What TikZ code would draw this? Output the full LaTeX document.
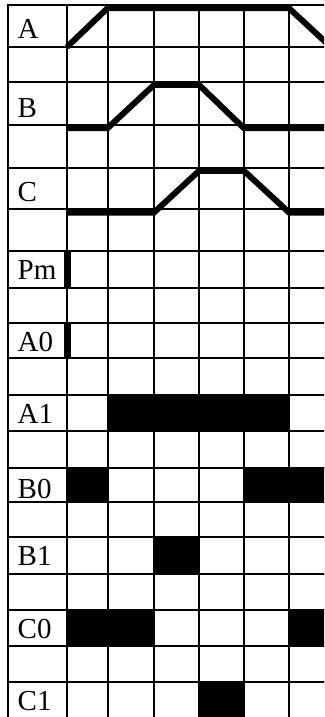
\documentclass[tikz,border=0pt]{standalone}
\usepackage{fontspec}
\setmainfont{Liberation Serif}
\usetikzlibrary{positioning}
\tikzset{
  gridline/.style={line width=2pt},
  wave/.style={line width=6pt},
  cell/.style={fill=black},
  lbl/.style={anchor=base west, inner sep=0pt, font=\fontsize{29}{32}\selectfont},
}

\begin{document}
\begin{tikzpicture}[x=1pt, y=-1pt]
  \clip (0,0) rectangle (324,717);

  % filled cells
  \fill[cell] (63.5,250.7) rectangle (71,287.7);    % Pm
  \fill[cell] (63.5,322.7) rectangle (71,358.3);    % A0
  \fill[cell] (107.5,395) rectangle (289,431);      % A1
  \fill[cell] (67,467.7) rectangle (107.5,501.7);   % B0
  \fill[cell] (244,467.7) rectangle (334,501.7);
  \fill[cell] (154,537.3) rectangle (199,574);      % B1
  \fill[cell] (67,610) rectangle (154,645.7);       % C0
  \fill[cell] (289,610) rectangle (334,645.7);
  \fill[cell] (199,681.7) rectangle (244,730);      % C1

  % grid
  \foreach \x in {8,67,107.5,154,199,244,289}
    \draw[gridline] (\x,4) -- (\x,730);
  \foreach \y in {5,46.7,81.7,125,167.7,209.3,250.7,287.7,322.7,358.3,
                  395,431,467.7,501.7,537.3,574,610,645.7,681.7}
    \draw[gridline] (7,\y) -- (334,\y);

  % waveforms
  \draw[wave] (67,47) -- (107.5,8.2) -- (289,8.2) -- (334,49.9);
  \draw[wave] (67,128.2) -- (107.5,128.2) -- (154,84.9) -- (199,84.9)
              -- (244,128.2) -- (334,128.2);
  \draw[wave] (67,212.5) -- (154,212.5) -- (199,170.9) -- (244,170.9)
              -- (289,212.5) -- (334,212.5);

  % labels
  \node[lbl] (a)  at (17.5,38)    {A};
  \node[lbl] (b)  at (17.5,117)   {B};
  \node[lbl] (c)  at (17.5,201.5) {C};
  \node[lbl] (pm) at (17.5,279)   {Pm};
  \node[lbl] (a0) at (17.5,351.7) {A0};
  \node[lbl] (a1) at (17.5,423)   {A1};
  \node[lbl] (b0) at (17.5,498)   {B0};
  \node[lbl] (b1) at (17.5,565)   {B1};
  \node[lbl] (c0) at (17.5,638)   {C0};
  \node[lbl] (c1) at (17.5,710)   {C1};
\end{tikzpicture}
\end{document}
